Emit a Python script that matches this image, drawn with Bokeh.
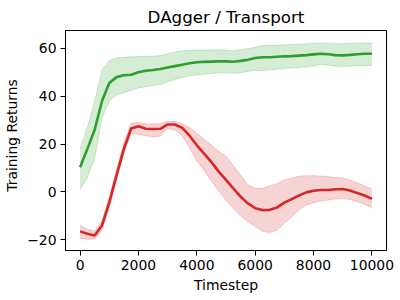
from bokeh.plotting import figure
from bokeh.models import Range1d, FixedTicker, Label
from bokeh.embed import file_html
from bokeh.resources import INLINE
import math

timesteps = [0, 250, 500, 750, 1000, 1250, 1500, 1750, 2000, 2250, 2500, 2750,
             3000, 3250, 3500, 3750, 4000, 4250, 4500, 4750, 5000, 5250, 5500,
             5750, 6000, 6250, 6500, 6750, 7000, 7250, 7500, 7750, 8000, 8250,
             8500, 8750, 9000, 9250, 9500, 9750, 10000]

green_mean = [10.3, 18, 26, 38, 45.5, 48, 48.8, 49, 50, 50.7, 51, 51.4,
              52, 52.6, 53.2, 53.8, 54.2, 54.4, 54.5, 54.6, 54.6, 54.4, 54.8,
              55.3, 56, 56.3, 56.3, 56.5, 56.7, 56.8, 57, 57.2, 57.5, 57.8,
              57.6, 57.2, 57.1, 57.3, 57.6, 57.8, 57.8]
green_lo = [1, 6, 14, 31, 38, 40.5, 41.5, 42.5, 43.5, 44, 44.5, 45,
            46, 47, 47.8, 48.5, 49, 49.2, 49.5, 49.8, 49.8, 49.6, 49.8,
            50.4, 50.8, 50.8, 51, 51.3, 51.6, 51.8, 52, 52.3, 52.8, 53.2,
            53, 52.6, 52.4, 52.5, 52.8, 52.9, 52.8]
green_hi = [18, 27, 38, 51, 55, 56, 56.3, 56.5, 56.6, 56.7, 56.8, 57,
            57.8, 58.5, 59, 59.2, 59.3, 59.3, 59.3, 59.4, 59.3, 59.0, 59.5,
            60, 60.5, 61.2, 61.3, 61.4, 61.5, 61.6, 61.8, 62, 62.2, 62.3,
            62.2, 62, 62, 62.2, 62.3, 62.3, 62.3]

red_mean = [-16.5, -17.5, -18.2, -14, -4.5, 7, 18, 26.5, 27.5, 26.4, 26.3, 26.4,
            28.2, 28.2, 26.8, 23.5, 19.5, 16, 12.5, 8.5, 5, 1.5, -2,
            -4.8, -6.8, -7.6, -7.5, -6.5, -4.5, -3, -1.5, -0.2, 0.5, 0.8,
            0.8, 1.1, 1.2, 0.6, -0.5, -1.5, -2.9]
red_lo = [-19.5, -19.8, -19.8, -16, -6.5, 5, 16, 24.5, 24, 23.5, 23, 23.3,
          26.5, 26, 23.5, 18.5, 13, 9, 4.5, 0.5, -3.5, -7, -10,
          -12.5, -14.5, -16.5, -17, -16, -13, -10.5, -7.5, -5.5, -4.5, -3.8,
          -3.4, -3, -2.8, -3.2, -4, -5.2, -6.6]
red_hi = [-14, -15.5, -16.5, -12, -2, 9.5, 20.5, 28.8, 29, 28.5, 28.5, 28.5,
          29.5, 29.5, 28.5, 27, 24.5, 22, 19.5, 17, 15, 11, 7,
          3, 1.5, 1.5, 2.5, 3.5, 5, 5.8, 6.5, 6.8, 6.8, 6.6,
          6.4, 6, 5.8, 5, 3.8, 2.5, 1.2]

x_ticks = [0, 2000, 4000, 6000, 8000, 10000]
y_ticks = [-20, 0, 20, 40, 60]

title_text = "DAgger / Transport"
x_label = "Timestep"
y_label = "Training Returns"

GREEN = "#2ca02c"
RED = "#d62728"
FONT = "DejaVu Sans"

p = figure(width=400, height=300, output_backend="svg", toolbar_location=None,
           x_range=Range1d(-500, 10500), y_range=Range1d(-24.5, 67.5),
           title=title_text,
           min_border_left=65, min_border_right=14, min_border_top=28,
           min_border_bottom=50)

for mean, lo, hi, col in [(green_mean, green_lo, green_hi, GREEN),
                          (red_mean, red_lo, red_hi, RED)]:
    p.varea(x=timesteps, y1=lo, y2=hi, fill_color=col, fill_alpha=0.2)
    p.line(x=timesteps, y=lo, line_color=col, line_alpha=0.2, line_width=1)
    p.line(x=timesteps, y=hi, line_color=col, line_alpha=0.2, line_width=1)
    p.line(x=timesteps, y=mean, line_color=col, line_width=2.6)

p.title.text_font = FONT
p.title.text_font_size = "16.7px"
p.title.text_font_style = "normal"
p.title.align = "center"
p.title.text_color = "black"
p.title.standoff = 8
p.title.offset = 0

p.xgrid.visible = False
p.ygrid.visible = False
p.outline_line_color = "black"
p.outline_line_width = 1
p.outline_line_alpha = 1

p.xaxis.ticker = FixedTicker(ticks=x_ticks)
p.yaxis.ticker = FixedTicker(ticks=y_ticks)
p.yaxis.major_label_overrides = {t: str(t).replace("-", "\u2212") for t in y_ticks}
p.xaxis.major_label_overrides = {t: str(t) for t in x_ticks}

for ax in (p.xaxis[0], p.yaxis[0]):
    ax.axis_line_color = "black"
    ax.major_tick_line_color = "black"
    ax.major_tick_in = 0
    ax.major_tick_out = 5
    ax.minor_tick_line_color = None
    ax.major_label_text_font = FONT
    ax.major_label_text_font_size = "13.9px"
    ax.major_label_text_color = "black"
    ax.major_label_standoff = 4

p.yaxis.major_label_orientation = "horizontal"

# axis titles placed in the side panels (offsets in screen px)
p.add_layout(Label(x=160.5, y=4, x_units="screen", y_units="screen",
                   text=x_label, text_font=FONT, text_font_size="13.9px",
                   text_align="center", text_baseline="middle", text_color="black"),
             "below")
p.add_layout(Label(x=3, y=115, x_units="screen", y_units="screen",
                   text=y_label, text_font=FONT, text_font_size="13.9px",
                   angle=math.pi / 2,
                   text_align="center", text_baseline="middle", text_color="black"),
             "left")

open("out.html", "w").write(file_html(p, INLINE))
